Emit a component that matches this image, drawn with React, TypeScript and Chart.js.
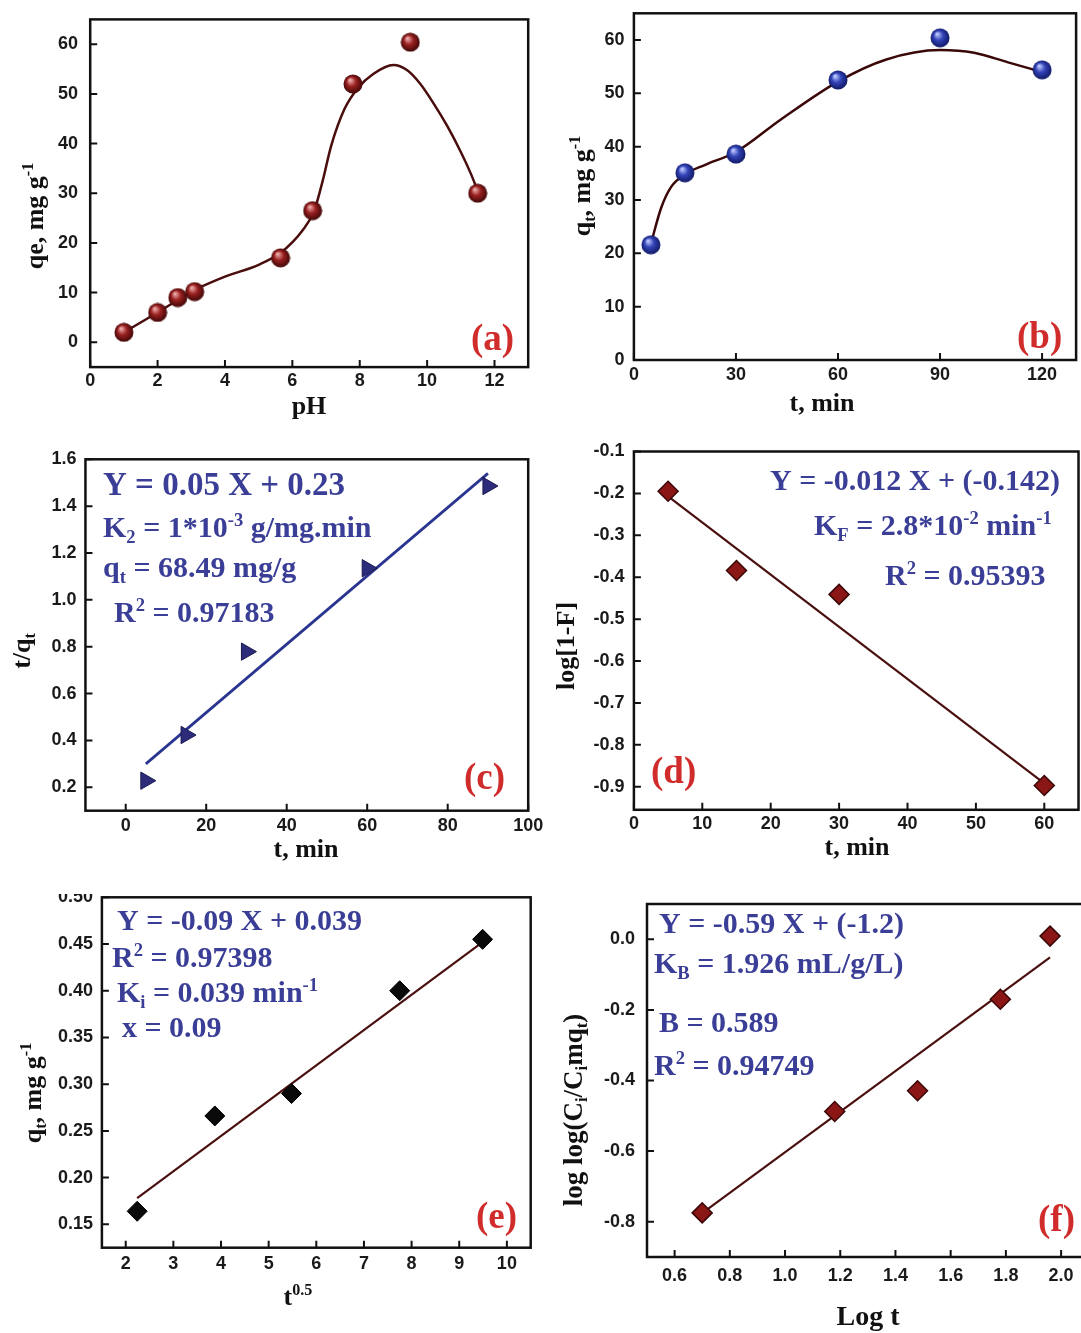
import { useEffect, useRef } from 'react';
import { Chart, registerables } from 'chart.js';

Chart.register(...registerables);

// ---------- (a) effect of pH ----------
const phX = [1, 2, 2.6, 3.1, 5.65, 6.6, 7.8, 9.5, 11.5];
const phQe = [2, 6, 9, 10.2, 17, 26.5, 52, 60.4, 30];
const phCurveX = [1, 2, 3.1, 4, 5, 5.65, 6.3, 6.65, 6.9, 7.15, 7.55, 7.95, 8.4, 9.0, 9.4, 9.8, 10.2, 10.6, 11.0, 11.3, 11.5];
const phCurveY = [2, 6, 10.5, 13.2, 15.6, 18, 22.5, 26.5, 32.5, 39.5, 47, 51.2, 54, 55.8, 54.8, 52, 48, 43.5, 38.3, 33.9, 30.5];
const aXTicks = [0, 2, 4, 6, 8, 10, 12];
const aYTicks = [0, 10, 20, 30, 40, 50, 60];

// ---------- (b) contact time ----------
const timeB = [5, 15, 30, 60, 90, 120];
const qtB = [21.6, 35.1, 38.6, 52.5, 60.4, 54.4];
const curveBX = [5, 8, 11, 15, 21, 30, 43, 60, 74, 90, 100, 110, 120];
const curveBY = [21.8, 28.5, 32.5, 34.8, 36.6, 39, 45, 52.2, 56.3, 58.1, 57.6, 55.8, 54];
const bXTicks = [0, 30, 60, 90, 120];
const bYTicks = [0, 10, 20, 30, 40, 50, 60];

// ---------- (c) pseudo-second order ----------
const timeC = [5, 15, 30, 60, 90];
const tqC = [0.228, 0.423, 0.779, 1.135, 1.486];
const fitCX = [5, 90];
const fitCY = [0.3, 1.54];
const cXTicks = [0, 20, 40, 60, 80, 100];
const cYTicks = [0.2, 0.4, 0.6, 0.8, 1.0, 1.2, 1.4, 1.6];
const cYLabels = ['0.2', '0.4', '0.6', '0.8', '1.0', '1.2', '1.4', '1.6'];

// ---------- (d) pseudo-first order ----------
const timeD = [5, 15, 30, 60];
const logD = [-0.195, -0.384, -0.441, -0.897];
const fitDX = [5, 60];
const fitDY = [-0.207, -0.892];
const dXTicks = [0, 10, 20, 30, 40, 50, 60];
const dYTicks = [-0.1, -0.2, -0.3, -0.4, -0.5, -0.6, -0.7, -0.8, -0.9];
const dYLabels = ['-0.1', '-0.2', '-0.3', '-0.4', '-0.5', '-0.6', '-0.7', '-0.8', '-0.9'];

// ---------- (e) intra-particle diffusion ----------
const sqrtT = [2.24, 3.87, 5.48, 7.75, 9.49];
const qtE = [0.164, 0.266, 0.29, 0.4, 0.455];
const fitEX = [2.24, 9.49];
const fitEY = [0.178, 0.452];
const eXTicks = [2, 3, 4, 5, 6, 7, 8, 9, 10];
const eYTicks = [0.15, 0.2, 0.25, 0.3, 0.35, 0.4, 0.45, 0.5];
const eYLabels = ['0.15', '0.20', '0.25', '0.30', '0.35', '0.40', '0.45', '0.50'];

// ---------- (f) Bangham ----------
const logT = [0.7, 1.18, 1.48, 1.78, 1.96];
const llF = [-0.775, -0.488, -0.429, -0.17, 0.009];
const fitFX = [0.7, 1.96];
const fitFY = [-0.776, -0.051];
const fXTicks = [0.6, 0.8, 1.0, 1.2, 1.4, 1.6, 1.8, 2.0];
const fXLabels = ['0.6', '0.8', '1.0', '1.2', '1.4', '1.6', '1.8', '2.0'];
const fYTicks = [0, -0.2, -0.4, -0.6, -0.8];
const fYLabels = ['0.0', '-0.2', '-0.4', '-0.6', '-0.8'];

// ---------- styling ----------
const SERIF = '"Liberation Serif", "Times New Roman", serif';
const SANS = '"Liberation Sans", Arial, sans-serif';
const BLUE = '#3a3e96';
const RED = '#d12c2c';

type Run = { t: string; s?: 'sub' | 'sup' };
type TextItem = {
  runs: Run[];
  x: number;
  y: number;
  size: number;
  color: string;
  align?: 'left' | 'center' | 'right';
  rotate?: boolean;
};

type PanelCfg = {
  ox: number;
  oy: number;
  w: number;
  h: number;
  frame: { l: number; t: number; r: number; b: number };
  xMin: number;
  xMax: number;
  yMin: number;
  yMax: number;
  xTicks: number[];
  xLabels: string[];
  yTicks: number[];
  yLabels: string[];
  xLabelY: number;
  yLabelRight: number;
  clipTop?: number;
  datasets: any[];
  texts: TextItem[];
};

const toXY = (xs: number[], ys: number[]) => xs.map((x, i) => ({ x, y: ys[i] }));

function sphere(d: number, light: string, base: string, dark: string) {
  const c = document.createElement('canvas');
  c.width = d;
  c.height = d;
  const g = c.getContext('2d')!;
  const r = d / 2;
  const grad = g.createRadialGradient(r * 0.7, r * 0.6, r * 0.05, r, r, r);
  grad.addColorStop(0, light);
  grad.addColorStop(0.45, base);
  grad.addColorStop(1, dark);
  g.fillStyle = grad;
  g.beginPath();
  g.arc(r, r, r - 0.5, 0, Math.PI * 2);
  g.fill();
  return c;
}

function drawRich(ctx: CanvasRenderingContext2D, item: TextItem) {
  const { runs, x, y, size, color, align = 'left', rotate } = item;
  const parts = runs.map((r) => {
    const fs = r.s ? size * 0.62 : size;
    ctx.font = `bold ${fs}px ${SERIF}`;
    return { r, fs, w: ctx.measureText(r.t).width };
  });
  const total = parts.reduce((a, p) => a + p.w, 0);
  ctx.save();
  ctx.translate(x, y);
  if (rotate) ctx.rotate(-Math.PI / 2);
  let cx = align === 'center' ? -total / 2 : align === 'right' ? -total : 0;
  ctx.fillStyle = color;
  ctx.textBaseline = 'alphabetic';
  ctx.textAlign = 'left';
  for (const p of parts) {
    ctx.font = `bold ${p.fs}px ${SERIF}`;
    const dy = p.r.s === 'sub' ? size * 0.2 : p.r.s === 'sup' ? -size * 0.38 : 0;
    ctx.fillText(p.r.t, cx, dy);
    cx += p.w;
  }
  ctx.restore();
}

function makePlugin(cfg: PanelCfg) {
  return {
    id: 'frameText',
    afterDraw(chart: any) {
      const ctx: CanvasRenderingContext2D = chart.ctx;
      const xs = chart.scales.x;
      const ys = chart.scales.y;
      const { left, right, top, bottom } = chart.chartArea;
      ctx.save();
      // frame
      ctx.strokeStyle = '#111';
      ctx.lineWidth = 2.5;
      ctx.strokeRect(left, top, right - left, bottom - top);
      // inward ticks
      ctx.lineWidth = 2;
      ctx.beginPath();
      cfg.xTicks.forEach((v) => {
        const px = xs.getPixelForValue(v);
        ctx.moveTo(px, bottom);
        ctx.lineTo(px, bottom - 7);
      });
      cfg.yTicks.forEach((v) => {
        const py = ys.getPixelForValue(v);
        ctx.moveTo(left, py);
        ctx.lineTo(left + 7, py);
      });
      ctx.stroke();
      // tick labels
      ctx.translate(-cfg.ox, -cfg.oy);
      if (cfg.clipTop !== undefined) {
        ctx.save();
        ctx.beginPath();
        ctx.rect(cfg.ox, cfg.clipTop, cfg.w, cfg.h);
        ctx.clip();
      }
      ctx.fillStyle = '#1a1a1a';
      ctx.font = `bold 18px ${SANS}`;
      ctx.textBaseline = 'middle';
      ctx.textAlign = 'center';
      cfg.xTicks.forEach((v, i) => {
        ctx.fillText(cfg.xLabels[i], xs.getPixelForValue(v) + cfg.ox, cfg.xLabelY);
      });
      ctx.textAlign = 'right';
      cfg.yTicks.forEach((v, i) => {
        ctx.fillText(cfg.yLabels[i], cfg.yLabelRight, ys.getPixelForValue(v) + cfg.oy);
      });
      if (cfg.clipTop !== undefined) ctx.restore();
      cfg.texts.forEach((t) => drawRich(ctx, t));
      ctx.restore();
    },
  };
}

function Panel({ cfg }: { cfg: PanelCfg }) {
  const ref = useRef<HTMLCanvasElement>(null);
  useEffect(() => {
    const f = cfg.frame;
    const chart = new Chart(ref.current!, {
      type: 'scatter',
      data: { datasets: cfg.datasets },
      options: {
        responsive: false,
        animation: false,
        events: [],
        layout: {
          padding: {
            left: f.l - cfg.ox,
            top: f.t - cfg.oy,
            right: cfg.ox + cfg.w - f.r,
            bottom: cfg.oy + cfg.h - f.b,
          },
        },
        scales: {
          x: { type: 'linear', display: false, min: cfg.xMin, max: cfg.xMax },
          y: { type: 'linear', display: false, min: cfg.yMin, max: cfg.yMax },
        },
        plugins: { legend: { display: false }, tooltip: { enabled: false } },
      },
      plugins: [makePlugin(cfg)],
    } as any);
    return () => chart.destroy();
  }, [cfg]);
  return (
    <canvas
      ref={ref}
      width={cfg.w}
      height={cfg.h}
      style={{ position: 'absolute', left: cfg.ox, top: cfg.oy, width: cfg.w, height: cfg.h }}
    />
  );
}

const pts = (data: any[], extra: any) => ({
  type: 'scatter',
  data,
  showLine: false,
  clip: false,
  ...extra,
});
const line = (data: any[], color: string, width: number, smooth: boolean) => ({
  type: 'line',
  data,
  showLine: true,
  pointRadius: 0,
  borderColor: color,
  borderWidth: width,
  fill: false,
  clip: false,
  tension: smooth ? 0.4 : 0,
  cubicInterpolationMode: smooth ? 'monotone' : 'default',
});

const s = (t: string, sv?: 'sub' | 'sup'): Run => ({ t, s: sv });

function buildPanels(): PanelCfg[] {
  const redBall = sphere(20, '#f0b0b0', '#9a2020', '#3a0505');
  const blueBall = sphere(20, '#c0ccff', '#3344b8', '#0e1660');
  const diamondRed = { pointStyle: 'rectRot', pointRadius: 10, backgroundColor: '#8a1616', borderColor: '#3b0808', borderWidth: 1.5 };
  const diamondBlack = { pointStyle: 'rectRot', pointRadius: 10, backgroundColor: '#0a0a0a', borderColor: '#000', borderWidth: 1 };
  const tri = { pointStyle: 'triangle', rotation: 90, pointRadius: 10, backgroundColor: '#2c2c7a', borderColor: '#1a1a50', borderWidth: 1 };
  const fmt = (a: number[]) => a.map(String);
  const ann = (runs: Run[], x: number, y: number, size = 30): TextItem => ({ runs, x, y, size, color: BLUE });
  const lab = (t: string, x: number, y: number): TextItem => ({ runs: [s(t)], x, y, size: 37, color: RED });

  return [
    {
      ox: 0, oy: 0, w: 545, h: 440,
      frame: { l: 90.2, t: 19.4, r: 528.2, b: 367.1 },
      xMin: 0, xMax: 13, yMin: -5, yMax: 65,
      xTicks: aXTicks, xLabels: fmt(aXTicks), yTicks: aYTicks, yLabels: fmt(aYTicks),
      xLabelY: 381, yLabelRight: 78,
      datasets: [
        pts(toXY(phX, phQe), { pointStyle: redBall, pointRadius: 9 }),
        line(toXY(phCurveX, phCurveY), '#4a0d0d', 2.5, true),
      ],
      texts: [
        { runs: [s('qe, mg g'), s('-1', 'sup')], x: 43, y: 216, size: 26, color: '#111', align: 'center', rotate: true },
        { runs: [s('pH')], x: 309, y: 414, size: 26, color: '#111', align: 'center' },
        lab('(a)', 471, 350),
      ],
    },
    {
      ox: 545, oy: 0, w: 545, h: 440,
      frame: { l: 633.9, t: 13.3, r: 1076.1, b: 360 },
      xMin: 0, xMax: 130, yMin: 0, yMax: 65,
      xTicks: bXTicks, xLabels: fmt(bXTicks), yTicks: bYTicks, yLabels: fmt(bYTicks),
      xLabelY: 375, yLabelRight: 624.5,
      datasets: [
        pts(toXY(timeB, qtB), { pointStyle: blueBall, pointRadius: 9 }),
        line(toXY(curveBX, curveBY), '#3a0808', 2.5, true),
      ],
      texts: [
        { runs: [s('q'), s('t', 'sub'), s(', mg g'), s('-1', 'sup')], x: 590, y: 186, size: 26, color: '#111', align: 'center', rotate: true },
        { runs: [s('t, min')], x: 822, y: 411, size: 26, color: '#111', align: 'center' },
        lab('(b)', 1017, 348),
      ],
    },
    {
      ox: 0, oy: 440, w: 545, h: 440,
      frame: { l: 85.45, t: 459.3, r: 528.2, b: 810.7 },
      xMin: -10, xMax: 100, yMin: 0.1, yMax: 1.6,
      xTicks: cXTicks, xLabels: fmt(cXTicks), yTicks: cYTicks, yLabels: cYLabels,
      xLabelY: 826, yLabelRight: 76.4,
      datasets: [
        pts(toXY(timeC, tqC), tri),
        line(toXY(fitCX, fitCY), '#2a3590', 2.8, false),
      ],
      texts: [
        { runs: [s('t/q'), s('t', 'sub')], x: 30, y: 651, size: 26, color: '#111', align: 'center', rotate: true },
        { runs: [s('t, min')], x: 306, y: 857, size: 26, color: '#111', align: 'center' },
        ann([s('Y = 0.05 X + 0.23')], 103, 495, 33),
        ann([s('K'), s('2', 'sub'), s(' = 1*10'), s('-3', 'sup'), s(' g/mg.min')], 103, 537),
        ann([s('q'), s('t', 'sub'), s(' = 68.49 mg/g')], 103, 577),
        ann([s('R'), s('2', 'sup'), s(' = 0.97183')], 114, 622),
        lab('(c)', 464, 789),
      ],
    },
    {
      ox: 545, oy: 440, w: 545, h: 440,
      frame: { l: 633.9, t: 450, r: 1082.9, b: 809.8 },
      xMin: 0, xMax: 65, yMin: -0.955, yMax: -0.1,
      xTicks: dXTicks, xLabels: fmt(dXTicks), yTicks: dYTicks, yLabels: dYLabels,
      xLabelY: 824, yLabelRight: 624.5,
      datasets: [
        pts(toXY(timeD, logD), diamondRed),
        line(toXY(fitDX, fitDY), '#4a1010', 2.2, false),
      ],
      texts: [
        { runs: [s('log[1-F]')], x: 574, y: 646, size: 26, color: '#111', align: 'center', rotate: true },
        { runs: [s('t, min')], x: 857, y: 855, size: 26, color: '#111', align: 'center' },
        ann([s('Y = -0.012 X + (-0.142)')], 770, 490),
        ann([s('K'), s('F', 'sub'), s(' = 2.8*10'), s('-2', 'sup'), s(' min'), s('-1', 'sup')], 814, 535),
        ann([s('R'), s('2', 'sup'), s(' = 0.95393')], 885, 585),
        lab('(d)', 651, 783),
      ],
    },
    {
      ox: 0, oy: 880, w: 545, h: 453,
      frame: { l: 101.9, t: 897.3, r: 530.7, b: 1247.7 },
      xMin: 1.5, xMax: 10.5, yMin: 0.125, yMax: 0.5,
      xTicks: eXTicks, xLabels: fmt(eXTicks), yTicks: eYTicks, yLabels: eYLabels,
      xLabelY: 1264, yLabelRight: 93, clipTop: 894,
      datasets: [
        pts(toXY(sqrtT, qtE), diamondBlack),
        line(toXY(fitEX, fitEY), '#4a1010', 2.2, false),
      ],
      texts: [
        { runs: [s('q'), s('t', 'sub'), s(', mg g'), s('-1', 'sup')], x: 41, y: 1093, size: 26, color: '#111', align: 'center', rotate: true },
        { runs: [s('t'), s('0.5', 'sup')], x: 298, y: 1305, size: 26, color: '#111', align: 'center' },
        ann([s('Y = -0.09 X + 0.039')], 117, 930),
        ann([s('R'), s('2', 'sup'), s(' = 0.97398')], 112, 967),
        ann([s('K'), s('i', 'sub'), s(' = 0.039 min'), s('-1', 'sup')], 117, 1002),
        ann([s('x = 0.09')], 122, 1037),
        lab('(e)', 476, 1228),
      ],
    },
    {
      ox: 545, oy: 880, w: 560, h: 453,
      frame: { l: 647, t: 904, r: 1088.7, b: 1257 },
      xMin: 0.5, xMax: 2.1, yMin: -0.9, yMax: 0.1,
      xTicks: fXTicks, xLabels: fXLabels, yTicks: fYTicks, yLabels: fYLabels,
      xLabelY: 1276, yLabelRight: 635,
      datasets: [
        pts(toXY(logT, llF), diamondRed),
        line(toXY(fitFX, fitFY), '#4a1010', 2.2, false),
      ],
      texts: [
        { runs: [s('log log(C'), s('i', 'sub'), s('/C'), s('i', 'sub'), s('mq'), s('t', 'sub'), s(')')], x: 582, y: 1110, size: 27, color: '#111', align: 'center', rotate: true },
        { runs: [s('Log t')], x: 868, y: 1325, size: 28, color: '#111', align: 'center' },
        ann([s('Y = -0.59 X + (-1.2)')], 659, 933),
        ann([s('K'), s('B', 'sub'), s(' = 1.926 mL/g/L)')], 654, 973),
        ann([s('B = 0.589')], 659, 1032),
        ann([s('R'), s('2', 'sup'), s(' = 0.94749')], 654, 1075),
        lab('(f)', 1038, 1231),
      ],
    },
  ];
}

let PANELS: PanelCfg[] | null = null;

export default function App() {
  if (!PANELS) PANELS = buildPanels();
  return (
    <div
      style={{
        position: 'fixed',
        left: 0,
        top: 0,
        width: 1081,
        height: 1333,
        overflow: 'hidden',
        background: '#fff',
      }}
    >
      {PANELS.map((p, i) => (
        <Panel key={i} cfg={p} />
      ))}
    </div>
  );
}
